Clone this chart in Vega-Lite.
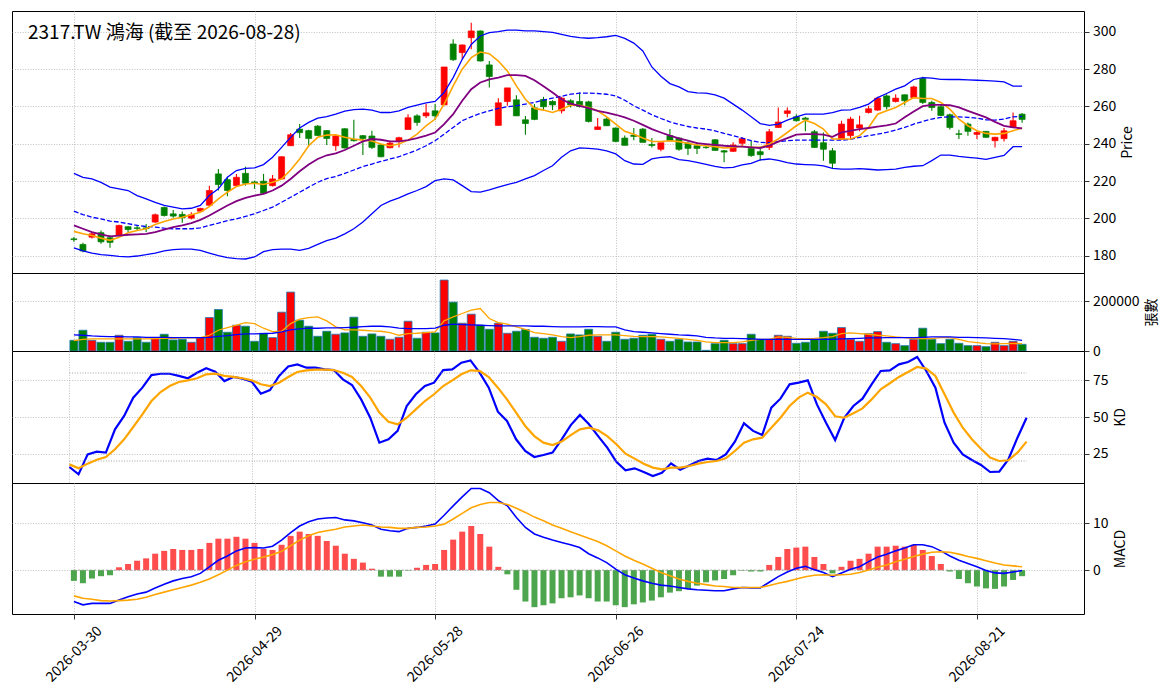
{
  "$schema": "https://vega.github.io/schema/vega-lite/v6.json",
  "padding": {"left": 11, "top": 10, "right": 4, "bottom": 4},
  "title": {
    "text": "2317.TW 鴻海 (截至 2026-08-28)",
    "anchor": "start",
    "frame": "group",
    "offset": -29,
    "dx": 16,
    "dy": 18,
    "baseline": "alphabetic",
    "fontSize": 19,
    "fontWeight": "normal",
    "color": "#000000"
  },
  "config": {
    "font": "Noto Sans CJK TC",
    "view": {"stroke": "#000000", "strokeWidth": 1},
    "axis": {
      "labelFontSize": 14,
      "labelColor": "#000000",
      "titleFontSize": 14,
      "titleFontWeight": "normal",
      "titleColor": "#000000",
      "tickColor": "#000000",
      "tickSize": 5,
      "tickWidth": 0.8,
      "domain": false,
      "gridColor": "#b0b0b0",
      "gridDash": [1, 1.6],
      "gridWidth": 0.8,
      "labelPadding": 3.5
    },
    "axisRight": {"titleAngle": 270, "titleBaseline": "top", "titlePadding": 5}
  },
  "datasets": {
    "stock": [
      {"d":"2026-03-30","i":0,"o":189.0,"h":190.0,"l":187.5,"c":188.6,"m5":193.0,"m10":196.2,"bu":224.1,"bm":203.8,"bl":184.2,"v":42900,"v5":41600,"v20":64400,"k":15.9,"dd":17.7,"dif":-6.7,"dea":-5.5,"osc":-2.3},
      {"d":"2026-03-31","i":1,"o":186.0,"h":186.9,"l":181.8,"c":182.5,"m5":191.7,"m10":194.4,"bu":222.0,"bm":202.0,"bl":182.5,"v":83200,"v5":47000,"v20":63100,"k":10.9,"dd":15.0,"dif":-7.4,"dea":-6.0,"osc":-2.8},
      {"d":"2026-04-01","i":2,"o":189.9,"h":192.6,"l":189.2,"c":191.7,"m5":190.8,"m10":192.6,"bu":221.1,"bm":200.6,"bl":181.4,"v":42900,"v5":48300,"v20":60400,"k":24.5,"dd":18.2,"dif":-7.1,"dea":-6.2,"osc":-1.8},
      {"d":"2026-04-02","i":3,"o":192.3,"h":193.5,"l":186.4,"c":187.4,"m5":189.4,"m10":191.4,"bu":219.3,"bm":199.7,"bl":180.5,"v":34900,"v5":48300,"v20":59000,"k":26.4,"dd":20.9,"dif":-7.1,"dea":-6.5,"osc":-1.3},
      {"d":"2026-04-07","i":4,"o":189.6,"h":190.9,"l":184.2,"c":187.1,"m5":188.2,"m10":190.3,"bu":216.7,"bm":198.5,"bl":180.1,"v":34900,"v5":48300,"v20":57700,"k":25.7,"dd":22.7,"dif":-7.1,"dea":-6.6,"osc":-1.1},
      {"d":"2026-04-08","i":5,"o":190.8,"h":196.5,"l":190.5,"c":196.2,"m5":189.9,"m10":190.7,"bu":215.8,"bm":198.0,"bl":179.6,"v":63100,"v5":48300,"v20":57700,"k":41.6,"dd":28.0,"dif":-6.4,"dea":-6.5,"osc":0.6},
      {"d":"2026-04-09","i":6,"o":195.5,"h":195.8,"l":192.5,"c":194.0,"m5":192.3,"m10":191.2,"bu":214.9,"bm":197.1,"bl":179.3,"v":38900,"v5":48300,"v20":56400,"k":50.7,"dd":34.8,"dif":-5.7,"dea":-6.4,"osc":1.3},
      {"d":"2026-04-10","i":7,"o":194.9,"h":196.5,"l":193.5,"c":194.6,"m5":193.5,"m10":191.4,"bu":212.2,"bm":196.2,"bl":179.8,"v":53700,"v5":48300,"v20":56400,"k":63.2,"dd":43.2,"dif":-5.1,"dea":-6.2,"osc":2.0},
      {"d":"2026-04-13","i":8,"o":194.9,"h":197.0,"l":192.7,"c":194.5,"m5":194.4,"m10":191.7,"bu":210.4,"bm":195.6,"bl":180.5,"v":34900,"v5":48300,"v20":55000,"k":70.0,"dd":51.8,"dif":-4.7,"dea":-5.8,"osc":2.5},
      {"d":"2026-04-14","i":9,"o":198.0,"h":202.6,"l":197.6,"c":201.9,"m5":196.7,"m10":192.6,"bu":208.6,"bm":195.3,"bl":181.4,"v":49700,"v5":49700,"v20":55000,"k":78.6,"dd":60.9,"dif":-3.8,"dea":-5.2,"osc":3.5},
      {"d":"2026-04-15","i":10,"o":205.8,"h":206.3,"l":201.0,"c":201.5,"m5":198.3,"m10":193.9,"bu":206.9,"bm":194.7,"bl":182.5,"v":67100,"v5":51000,"v20":55000,"k":79.5,"dd":67.0,"dif":-3.0,"dea":-4.7,"osc":4.1},
      {"d":"2026-04-16","i":11,"o":202.4,"h":204.5,"l":200.3,"c":201.2,"m5":199.6,"m10":195.3,"bu":206.0,"bm":194.4,"bl":183.2,"v":44300,"v5":51000,"v20":53700,"k":79.5,"dd":71.1,"dif":-2.3,"dea":-4.2,"osc":4.5},
      {"d":"2026-04-17","i":12,"o":202.1,"h":203.6,"l":197.6,"c":200.3,"m5":200.6,"m10":196.2,"bu":205.1,"bm":194.4,"bl":183.5,"v":47000,"v5":52300,"v20":53700,"k":78.0,"dd":73.9,"dif":-1.8,"dea":-3.7,"osc":4.3},
      {"d":"2026-04-20","i":13,"o":200.1,"h":203.3,"l":199.4,"c":201.9,"m5":201.9,"m10":197.4,"bu":205.4,"bm":194.4,"bl":183.5,"v":34900,"v5":52300,"v20":53700,"k":76.4,"dd":75.0,"dif":-1.4,"dea":-3.2,"osc":4.3},
      {"d":"2026-04-21","i":14,"o":203.8,"h":205.6,"l":203.5,"c":205.3,"m5":203.3,"m10":199.2,"bu":206.9,"bm":194.9,"bl":182.8,"v":53700,"v5":53700,"v20":53700,"k":80.2,"dd":76.4,"dif":-0.7,"dea":-2.6,"osc":4.5},
      {"d":"2026-04-22","i":15,"o":207.0,"h":217.5,"l":206.5,"c":214.9,"m5":206.3,"m10":201.5,"bu":212.2,"bm":196.2,"bl":181.4,"v":134200,"v5":63100,"v20":55000,"k":83.2,"dd":79.1,"dif":0.7,"dea":-1.9,"osc":5.8},
      {"d":"2026-04-23","i":16,"o":223.8,"h":226.4,"l":214.9,"c":218.1,"m5":210.4,"m10":204.2,"bu":215.8,"bm":197.4,"bl":180.0,"v":166400,"v5":83200,"v20":59000,"k":80.9,"dd":79.5,"dif":2.1,"dea":-1.0,"osc":6.7},
      {"d":"2026-04-24","i":17,"o":220.7,"h":222.3,"l":211.8,"c":214.9,"m5":214.0,"m10":206.9,"bu":222.0,"bm":198.8,"bl":178.9,"v":75200,"v5":93900,"v20":61700,"k":74.5,"dd":78.0,"dif":3.0,"dea":0.0,"osc":6.7},
      {"d":"2026-04-27","i":18,"o":217.5,"h":223.8,"l":217.0,"c":222.0,"m5":217.0,"m10":209.2,"bu":225.6,"bm":199.7,"bl":178.4,"v":103300,"v5":103300,"v20":65800,"k":77.3,"dd":77.3,"dif":4.1,"dea":1.0,"osc":7.1},
      {"d":"2026-04-28","i":19,"o":224.1,"h":227.7,"l":217.5,"c":218.8,"m5":218.4,"m10":211.0,"bu":226.8,"bm":201.0,"bl":178.2,"v":99300,"v5":114100,"v20":68400,"k":76.1,"dd":76.4,"dif":4.7,"dea":1.8,"osc":6.7},
      {"d":"2026-04-29","i":20,"o":219.5,"h":220.2,"l":215.8,"c":219.0,"m5":218.8,"m10":212.2,"bu":227.0,"bm":202.4,"bl":179.3,"v":38900,"v5":110000,"v20":68400,"k":74.1,"dd":75.0,"dif":4.8,"dea":2.3,"osc":5.8},
      {"d":"2026-04-30","i":21,"o":219.9,"h":223.8,"l":213.1,"c":213.4,"m5":218.1,"m10":213.1,"bu":228.8,"bm":204.2,"bl":182.1,"v":71100,"v5":91300,"v20":69800,"k":65.9,"dd":72.3,"dif":4.7,"dea":2.8,"osc":4.5},
      {"d":"2026-05-04","i":22,"o":217.5,"h":223.2,"l":217.0,"c":221.1,"m5":219.3,"m10":214.9,"bu":232.7,"bm":206.0,"bl":183.2,"v":53700,"v5":77800,"v20":71100,"k":68.4,"dd":71.1,"dif":5.1,"dea":3.3,"osc":4.3},
      {"d":"2026-05-05","i":23,"o":221.1,"h":233.2,"l":220.8,"c":233.0,"m5":221.1,"m10":217.5,"bu":238.0,"bm":208.6,"bl":183.5,"v":155700,"v5":79200,"v20":76500,"k":78.0,"dd":73.4,"dif":6.4,"dea":4.0,"osc":5.4},
      {"d":"2026-05-06","i":24,"o":238.9,"h":245.7,"l":238.9,"c":244.8,"m5":225.9,"m10":221.1,"bu":243.4,"bm":211.3,"bl":183.5,"v":236200,"v5":110000,"v20":84500,"k":84.5,"dd":77.3,"dif":8.0,"dea":5.2,"osc":7.3},
      {"d":"2026-05-07","i":25,"o":247.8,"h":250.5,"l":243.0,"c":245.9,"m5":231.8,"m10":225.2,"bu":248.4,"bm":214.0,"bl":182.8,"v":123500,"v5":127500,"v20":88600,"k":85.9,"dd":80.7,"dif":9.4,"dea":6.4,"osc":8.2},
      {"d":"2026-05-08","i":26,"o":247.0,"h":247.5,"l":238.9,"c":242.8,"m5":238.9,"m10":228.8,"bu":251.4,"bm":216.7,"bl":183.9,"v":99300,"v5":134200,"v20":91300,"k":83.6,"dd":81.8,"dif":10.3,"dea":7.3,"osc":7.7},
      {"d":"2026-05-11","i":27,"o":249.4,"h":250.0,"l":244.1,"c":244.4,"m5":243.4,"m10":231.8,"bu":253.7,"bm":219.3,"bl":186.0,"v":59000,"v5":136900,"v20":91300,"k":83.6,"dd":82.3,"dif":10.9,"dea":8.0,"osc":7.3},
      {"d":"2026-05-12","i":28,"o":247.0,"h":247.3,"l":239.3,"c":242.8,"m5":244.6,"m10":233.8,"bu":254.5,"bm":221.3,"bl":188.0,"v":79200,"v5":120800,"v20":92600,"k":82.5,"dd":82.3,"dif":11.1,"dea":8.4,"osc":6.2},
      {"d":"2026-05-13","i":29,"o":238.9,"h":244.6,"l":236.2,"c":244.1,"m5":244.8,"m10":234.8,"bu":255.8,"bm":222.4,"bl":189.4,"v":67100,"v5":96600,"v20":92600,"k":82.0,"dd":82.0,"dif":11.2,"dea":8.7,"osc":5.2},
      {"d":"2026-05-14","i":30,"o":248.0,"h":248.3,"l":237.4,"c":237.7,"m5":243.4,"m10":236.6,"bu":257.4,"bm":224.1,"bl":191.7,"v":72500,"v5":84500,"v20":93900,"k":75.7,"dd":80.2,"dif":10.7,"dea":9.2,"osc":3.5},
      {"d":"2026-05-15","i":31,"o":242.3,"h":252.8,"l":241.2,"c":241.6,"m5":242.5,"m10":238.9,"bu":258.3,"bm":225.9,"bl":194.4,"v":135500,"v5":84500,"v20":95300,"k":71.8,"dd":77.3,"dif":10.5,"dea":9.4,"osc":2.4},
      {"d":"2026-05-18","i":32,"o":244.3,"h":244.6,"l":233.9,"c":242.8,"m5":241.9,"m10":241.2,"bu":258.5,"bm":227.7,"bl":198.0,"v":59000,"v5":83200,"v20":98000,"k":62.0,"dd":71.1,"dif":10.1,"dea":9.6,"osc":1.6},
      {"d":"2026-05-19","i":33,"o":244.1,"h":246.9,"l":237.1,"c":238.0,"m5":241.4,"m10":242.5,"bu":258.0,"bm":229.1,"bl":202.4,"v":68400,"v5":80500,"v20":99300,"k":49.5,"dd":63.2,"dif":9.6,"dea":9.4,"osc":0.3},
      {"d":"2026-05-20","i":34,"o":239.3,"h":239.8,"l":232.7,"c":233.0,"m5":239.8,"m10":242.1,"bu":256.7,"bm":230.5,"bl":206.9,"v":59000,"v5":79200,"v20":99300,"k":32.5,"dd":53.0,"dif":8.7,"dea":9.2,"osc":-1.4},
      {"d":"2026-05-21","i":35,"o":237.8,"h":241.6,"l":237.5,"c":240.3,"m5":238.9,"m10":241.2,"bu":256.7,"bm":231.8,"bl":209.2,"v":47000,"v5":73800,"v20":96600,"k":34.8,"dd":46.8,"dif":8.4,"dea":9.1,"osc":-1.4},
      {"d":"2026-05-22","i":36,"o":241.2,"h":243.7,"l":238.0,"c":243.2,"m5":239.8,"m10":241.2,"bu":257.6,"bm":233.0,"bl":211.0,"v":55000,"v5":63100,"v20":91300,"k":40.5,"dd":45.0,"dif":8.2,"dea":8.9,"osc":-1.4},
      {"d":"2026-05-25","i":37,"o":247.6,"h":255.8,"l":247.6,"c":253.9,"m5":241.9,"m10":241.9,"bu":259.4,"bm":234.8,"bl":213.1,"v":119400,"v5":69800,"v20":89900,"k":57.5,"dd":49.5,"dif":8.9,"dea":8.9,"osc":-0.1},
      {"d":"2026-05-26","i":38,"o":254.9,"h":255.8,"l":249.6,"c":251.4,"m5":245.1,"m10":243.0,"bu":260.6,"bm":236.6,"bl":214.9,"v":51000,"v5":71100,"v20":89900,"k":65.5,"dd":55.2,"dif":9.1,"dea":9.1,"osc":0.5},
      {"d":"2026-05-27","i":39,"o":254.9,"h":261.2,"l":253.7,"c":256.5,"m5":249.6,"m10":244.3,"bu":261.9,"bm":238.9,"bl":217.0,"v":75200,"v5":73800,"v20":89900,"k":71.1,"dd":60.9,"dif":9.4,"dea":9.2,"osc":1.1},
      {"d":"2026-05-28","i":40,"o":257.6,"h":261.2,"l":252.8,"c":254.9,"m5":253.2,"m10":246.0,"bu":262.6,"bm":241.6,"bl":220.2,"v":72500,"v5":76500,"v20":91300,"k":73.4,"dd":65.5,"dif":9.8,"dea":9.4,"osc":1.3},
      {"d":"2026-05-29","i":41,"o":260.8,"h":281.1,"l":260.8,"c":281.1,"m5":261.2,"m10":250.5,"bu":267.4,"bm":245.1,"bl":221.1,"v":284500,"v5":120800,"v20":103300,"k":82.0,"dd":71.1,"dif":11.7,"dea":9.8,"osc":4.3},
      {"d":"2026-06-01","i":42,"o":293.4,"h":295.9,"l":284.3,"c":285.0,"m5":271.0,"m10":255.8,"bu":275.4,"bm":248.7,"bl":220.6,"v":195900,"v5":136900,"v20":107400,"k":82.5,"dd":75.0,"dif":13.7,"dea":10.9,"osc":6.5},
      {"d":"2026-06-02","i":43,"o":288.8,"h":293.2,"l":285.2,"c":292.9,"m5":279.9,"m10":263.0,"bu":285.2,"bm":252.3,"bl":217.5,"v":111400,"v5":150300,"v20":106000,"k":87.0,"dd":79.1,"dif":15.6,"dea":12.1,"osc":8.2},
      {"d":"2026-06-03","i":44,"o":296.8,"h":304.8,"l":290.6,"c":300.4,"m5":286.1,"m10":269.2,"bu":293.2,"bm":254.4,"bl":214.3,"v":147600,"v5":163700,"v20":104700,"k":88.6,"dd":81.8,"dif":17.4,"dea":13.3,"osc":9.4},
      {"d":"2026-06-04","i":45,"o":300.4,"h":300.6,"l":284.0,"c":284.3,"m5":289.1,"m10":272.8,"bu":297.7,"bm":256.2,"bl":214.0,"v":103300,"v5":170400,"v20":103300,"k":80.2,"dd":81.4,"dif":17.4,"dea":14.0,"osc":7.7},
      {"d":"2026-06-05","i":46,"o":282.2,"h":284.3,"l":270.1,"c":276.0,"m5":288.2,"m10":274.5,"bu":299.5,"bm":257.6,"bl":215.2,"v":87200,"v5":130200,"v20":102000,"k":70.0,"dd":77.3,"dif":16.5,"dea":14.4,"osc":5.0},
      {"d":"2026-06-08","i":47,"o":249.8,"h":264.4,"l":249.8,"c":261.9,"m5":284.3,"m10":275.4,"bu":300.0,"bm":258.9,"bl":216.7,"v":111400,"v5":114100,"v20":100700,"k":53.6,"dd":70.0,"dif":14.8,"dea":14.4,"osc":0.7},
      {"d":"2026-06-09","i":48,"o":262.6,"h":269.9,"l":260.3,"c":269.9,"m5":279.0,"m10":276.7,"bu":300.9,"bm":259.8,"bl":218.1,"v":71100,"v5":107400,"v20":100700,"k":47.3,"dd":62.0,"dif":13.7,"dea":14.0,"osc":-0.9},
      {"d":"2026-06-10","i":49,"o":263.5,"h":266.0,"l":254.9,"c":254.9,"m5":271.0,"m10":276.7,"bu":300.9,"bm":260.3,"bl":219.3,"v":79200,"v5":96600,"v20":100700,"k":34.8,"dd":53.0,"dif":11.2,"dea":13.2,"osc":-4.2},
      {"d":"2026-06-11","i":50,"o":252.8,"h":254.8,"l":244.8,"c":250.8,"m5":263.8,"m10":276.3,"bu":300.5,"bm":261.2,"bl":221.1,"v":85900,"v5":87200,"v20":100700,"k":26.8,"dd":43.9,"dif":9.1,"dea":12.3,"osc":-6.7},
      {"d":"2026-06-12","i":51,"o":259.2,"h":261.2,"l":252.6,"c":253.0,"m5":258.9,"m10":274.0,"bu":300.4,"bm":262.1,"bl":222.9,"v":55000,"v5":73800,"v20":99300,"k":22.7,"dd":37.0,"dif":7.7,"dea":11.3,"osc":-7.9},
      {"d":"2026-06-15","i":52,"o":263.7,"h":265.1,"l":257.6,"c":259.8,"m5":258.0,"m10":270.8,"bu":300.0,"bm":263.3,"bl":225.6,"v":51000,"v5":69800,"v20":99300,"k":24.1,"dd":32.5,"dif":7.0,"dea":10.5,"osc":-7.5},
      {"d":"2026-06-16","i":53,"o":262.6,"h":263.3,"l":258.0,"c":260.8,"m5":256.7,"m10":267.4,"bu":299.6,"bm":264.4,"bl":228.2,"v":55000,"v5":64400,"v20":98000,"k":25.7,"dd":30.9,"dif":6.4,"dea":9.6,"osc":-7.1},
      {"d":"2026-06-17","i":54,"o":257.6,"h":265.1,"l":256.2,"c":264.4,"m5":258.5,"m10":263.8,"bu":298.6,"bm":265.4,"bl":232.7,"v":38900,"v5":57700,"v20":96600,"k":34.8,"dd":33.2,"dif":5.9,"dea":8.9,"osc":-6.0},
      {"d":"2026-06-18","i":55,"o":263.0,"h":263.8,"l":259.4,"c":260.8,"m5":260.6,"m10":261.5,"bu":297.5,"bm":266.5,"bl":236.2,"v":68400,"v5":53700,"v20":96600,"k":44.5,"dd":37.7,"dif":5.4,"dea":8.2,"osc":-5.8},
      {"d":"2026-06-22","i":56,"o":262.6,"h":267.4,"l":259.4,"c":259.9,"m5":260.6,"m10":260.3,"bu":296.8,"bm":267.1,"bl":237.7,"v":64400,"v5":57700,"v20":96600,"k":51.4,"dd":41.6,"dif":4.8,"dea":7.5,"osc":-5.4},
      {"d":"2026-06-23","i":57,"o":262.4,"h":263.0,"l":251.4,"c":251.9,"m5":259.4,"m10":259.0,"bu":296.5,"bm":267.1,"bl":237.5,"v":87200,"v5":63100,"v20":98000,"k":45.0,"dd":42.7,"dif":3.5,"dea":6.8,"osc":-6.0},
      {"d":"2026-06-24","i":58,"o":247.6,"h":253.7,"l":247.6,"c":249.0,"m5":257.6,"m10":257.6,"bu":296.8,"bm":266.9,"bl":237.1,"v":59000,"v5":64400,"v20":98000,"k":37.0,"dd":40.9,"dif":2.6,"dea":6.1,"osc":-6.7},
      {"d":"2026-06-25","i":59,"o":253.2,"h":254.1,"l":249.6,"c":249.6,"m5":254.4,"m10":256.7,"bu":297.3,"bm":266.5,"bl":236.2,"v":38900,"v5":64400,"v20":96600,"k":29.1,"dd":37.0,"dif":1.6,"dea":5.2,"osc":-6.7},
      {"d":"2026-06-26","i":60,"o":248.4,"h":248.7,"l":240.7,"c":241.2,"m5":250.5,"m10":255.5,"bu":298.0,"bm":265.6,"bl":234.5,"v":75200,"v5":64400,"v20":96600,"k":19.5,"dd":31.4,"dif":0.2,"dea":4.1,"osc":-7.5},
      {"d":"2026-06-29","i":61,"o":243.0,"h":244.4,"l":239.1,"c":239.1,"m5":246.6,"m10":254.1,"bu":296.4,"bm":263.3,"bl":230.9,"v":47000,"v5":61700,"v20":84500,"k":13.6,"dd":25.0,"dif":-1.0,"dea":3.0,"osc":-7.9},
      {"d":"2026-06-30","i":62,"o":244.6,"h":248.4,"l":241.9,"c":243.9,"m5":245.1,"m10":252.3,"bu":293.9,"bm":260.3,"bl":229.1,"v":51000,"v5":59000,"v20":77800,"k":15.0,"dd":21.6,"dif":-1.7,"dea":2.1,"osc":-7.3},
      {"d":"2026-07-01","i":63,"o":247.8,"h":248.4,"l":240.7,"c":240.7,"m5":243.0,"m10":250.1,"bu":289.7,"bm":258.0,"bl":228.9,"v":63100,"v5":57700,"v20":75200,"k":12.5,"dd":18.2,"dif":-2.3,"dea":1.3,"osc":-6.9},
      {"d":"2026-07-02","i":64,"o":239.6,"h":243.0,"l":238.0,"c":239.0,"m5":241.2,"m10":247.8,"bu":281.1,"bm":255.5,"bl":231.8,"v":67100,"v5":57700,"v20":72500,"k":9.8,"dd":15.5,"dif":-2.8,"dea":0.4,"osc":-6.5},
      {"d":"2026-07-03","i":65,"o":237.0,"h":240.5,"l":235.9,"c":240.5,"m5":241.2,"m10":246.0,"bu":276.1,"bm":253.5,"bl":232.7,"v":47000,"v5":56400,"v20":69800,"k":12.0,"dd":14.3,"dif":-3.2,"dea":-0.5,"osc":-5.8},
      {"d":"2026-07-06","i":66,"o":244.3,"h":247.8,"l":241.2,"c":241.6,"m5":241.6,"m10":244.3,"bu":272.2,"bm":251.7,"bl":233.0,"v":38900,"v5":53700,"v20":67100,"k":18.4,"dd":15.5,"dif":-3.4,"dea":-1.2,"osc":-4.8},
      {"d":"2026-07-07","i":67,"o":243.0,"h":243.4,"l":236.2,"c":237.0,"m5":241.1,"m10":242.8,"bu":270.4,"bm":250.3,"bl":231.4,"v":47000,"v5":51000,"v20":64400,"k":14.1,"dd":15.5,"dif":-3.7,"dea":-1.9,"osc":-4.5},
      {"d":"2026-07-08","i":68,"o":240.3,"h":241.2,"l":233.9,"c":237.5,"m5":240.2,"m10":241.6,"bu":267.9,"bm":249.2,"bl":230.9,"v":36200,"v5":47000,"v20":63100,"k":17.0,"dd":16.6,"dif":-4.0,"dea":-2.4,"osc":-4.0},
      {"d":"2026-07-09","i":69,"o":238.9,"h":240.7,"l":234.5,"c":237.5,"m5":239.3,"m10":240.3,"bu":267.2,"bm":248.4,"bl":230.0,"v":36200,"v5":42900,"v20":60400,"k":20.0,"dd":18.2,"dif":-4.2,"dea":-2.8,"osc":-3.3},
      {"d":"2026-07-10","i":70,"o":238.1,"h":238.9,"l":237.3,"c":237.9,"m5":238.9,"m10":239.8,"bu":267.1,"bm":247.8,"bl":228.9,"v":2700,"v5":36200,"v20":55000,"k":21.6,"dd":19.3,"dif":-4.3,"dea":-3.1,"osc":-2.6},
      {"d":"2026-07-13","i":71,"o":242.1,"h":242.5,"l":236.2,"c":236.4,"m5":238.4,"m10":239.4,"bu":266.2,"bm":246.9,"bl":227.8,"v":29500,"v5":33500,"v20":52300,"k":20.7,"dd":20.0,"dif":-4.4,"dea":-3.4,"osc":-2.2},
      {"d":"2026-07-14","i":72,"o":236.2,"h":236.6,"l":230.0,"c":235.5,"m5":237.7,"m10":238.9,"bu":264.4,"bm":245.5,"bl":227.0,"v":42900,"v5":33500,"v20":51000,"k":24.5,"dd":21.8,"dif":-4.4,"dea":-3.5,"osc":-1.9},
      {"d":"2026-07-15","i":73,"o":235.9,"h":240.7,"l":235.5,"c":239.3,"m5":238.0,"m10":238.6,"bu":261.2,"bm":244.3,"bl":227.3,"v":29500,"v5":33500,"v20":51000,"k":33.2,"dd":26.8,"dif":-4.0,"dea":-3.7,"osc":-1.1},
      {"d":"2026-07-16","i":74,"o":240.2,"h":243.4,"l":238.9,"c":242.7,"m5":238.6,"m10":238.4,"bu":258.0,"bm":243.0,"bl":228.6,"v":29500,"v5":36200,"v20":49700,"k":45.7,"dd":32.5,"dif":-3.7,"dea":-3.7,"osc":-0.1},
      {"d":"2026-07-17","i":75,"o":237.5,"h":241.6,"l":233.0,"c":233.6,"m5":238.0,"m10":238.0,"bu":254.4,"bm":241.6,"bl":229.5,"v":67100,"v5":42900,"v20":48300,"k":40.5,"dd":34.8,"dif":-3.8,"dea":-3.7,"osc":-0.3},
      {"d":"2026-07-20","i":76,"o":235.7,"h":238.4,"l":230.9,"c":234.1,"m5":238.0,"m10":237.7,"bu":250.8,"bm":240.7,"bl":231.3,"v":47000,"v5":47000,"v20":47000,"k":37.7,"dd":35.9,"dif":-3.8,"dea":-3.7,"osc":-0.3},
      {"d":"2026-07-21","i":77,"o":238.0,"h":247.8,"l":236.6,"c":246.4,"m5":239.8,"m10":238.9,"bu":249.8,"bm":240.5,"bl":231.8,"v":47000,"v5":47000,"v20":47000,"k":56.4,"dd":42.7,"dif":-2.6,"dea":-3.3,"osc":1.1},
      {"d":"2026-07-22","i":78,"o":248.7,"h":259.4,"l":248.4,"c":251.6,"m5":242.5,"m10":241.1,"bu":250.5,"bm":241.1,"bl":231.1,"v":63100,"v5":56400,"v20":47000,"k":62.5,"dd":49.5,"dif":-1.4,"dea":-2.8,"osc":2.8},
      {"d":"2026-07-23","i":79,"o":256.2,"h":259.4,"l":254.1,"c":257.6,"m5":246.0,"m10":243.0,"bu":252.6,"bm":241.6,"bl":229.8,"v":59000,"v5":55000,"v20":47000,"k":72.3,"dd":57.5,"dif":-0.4,"dea":-2.4,"osc":4.5},
      {"d":"2026-07-24","i":80,"o":254.4,"h":255.8,"l":251.9,"c":252.3,"m5":249.6,"m10":244.8,"bu":254.4,"bm":241.9,"bl":229.1,"v":30900,"v5":51000,"v20":47000,"k":73.4,"dd":63.2,"dif":0.4,"dea":-1.9,"osc":4.8},
      {"d":"2026-07-27","i":81,"o":253.7,"h":254.4,"l":246.6,"c":253.0,"m5":252.6,"m10":245.1,"bu":255.8,"bm":241.9,"bl":228.8,"v":34900,"v5":49700,"v20":47000,"k":75.0,"dd":66.6,"dif":0.8,"dea":-1.4,"osc":5.0},
      {"d":"2026-07-28","i":82,"o":246.4,"h":247.3,"l":237.7,"c":238.0,"m5":250.8,"m10":245.1,"bu":255.8,"bm":241.9,"bl":228.6,"v":47000,"v5":51000,"v20":47000,"k":58.6,"dd":63.6,"dif":0.1,"dea":-1.1,"osc":2.8},
      {"d":"2026-07-29","i":83,"o":240.5,"h":246.0,"l":230.9,"c":237.0,"m5":247.8,"m10":244.8,"bu":255.8,"bm":241.9,"bl":228.1,"v":79200,"v5":53700,"v20":47000,"k":46.1,"dd":58.6,"dif":-0.5,"dea":-1.0,"osc":1.3},
      {"d":"2026-07-30","i":84,"o":236.2,"h":237.7,"l":226.4,"c":229.5,"m5":242.5,"m10":243.7,"bu":256.7,"bm":241.9,"bl":226.8,"v":71100,"v5":57700,"v20":47000,"k":34.3,"dd":50.5,"dif":-1.4,"dea":-1.1,"osc":-0.7},
      {"d":"2026-07-31","i":85,"o":242.3,"h":252.3,"l":242.3,"c":250.5,"m5":242.5,"m10":246.0,"bu":258.0,"bm":241.9,"bl":226.4,"v":93900,"v5":69800,"v20":48300,"k":49.5,"dd":49.5,"dif":-0.6,"dea":-1.0,"osc":0.7},
      {"d":"2026-08-03","i":86,"o":244.3,"h":254.4,"l":242.5,"c":253.2,"m5":242.5,"m10":246.9,"bu":258.1,"bm":242.3,"bl":226.4,"v":47000,"v5":72500,"v20":49700,"k":57.5,"dd":52.5,"dif":0.2,"dea":-0.9,"osc":2.0},
      {"d":"2026-08-04","i":87,"o":248.4,"h":254.9,"l":246.6,"c":250.1,"m5":244.3,"m10":247.8,"bu":259.4,"bm":243.4,"bl":226.6,"v":38900,"v5":69800,"v20":51000,"k":62.5,"dd":55.9,"dif":0.7,"dea":-0.5,"osc":2.4},
      {"d":"2026-08-05","i":88,"o":256.7,"h":260.3,"l":256.2,"c":258.7,"m5":248.7,"m10":248.4,"bu":261.2,"bm":244.3,"bl":226.3,"v":69800,"v5":67100,"v20":52300,"k":72.3,"dd":62.0,"dif":1.8,"dea":0.0,"osc":3.5},
      {"d":"2026-08-06","i":89,"o":258.0,"h":265.1,"l":257.6,"c":264.4,"m5":255.8,"m10":249.1,"bu":264.7,"bm":245.1,"bl":225.9,"v":77800,"v5":63100,"v20":52300,"k":81.4,"dd":68.9,"dif":2.8,"dea":0.6,"osc":5.0},
      {"d":"2026-08-07","i":90,"o":265.6,"h":266.5,"l":258.3,"c":259.8,"m5":257.6,"m10":249.8,"bu":266.9,"bm":246.0,"bl":226.1,"v":34900,"v5":60400,"v20":53700,"k":81.8,"dd":73.0,"dif":3.4,"dea":1.1,"osc":5.0},
      {"d":"2026-08-10","i":91,"o":262.6,"h":266.5,"l":262.1,"c":264.4,"m5":259.4,"m10":250.8,"bu":269.2,"bm":247.3,"bl":226.4,"v":29500,"v5":56400,"v20":53700,"k":85.9,"dd":77.3,"dif":4.1,"dea":1.8,"osc":5.2},
      {"d":"2026-08-11","i":92,"o":266.2,"h":266.3,"l":260.6,"c":263.0,"m5":262.1,"m10":254.1,"bu":271.0,"bm":248.7,"bl":227.3,"v":21500,"v5":53700,"v20":53700,"k":87.5,"dd":80.7,"dif":4.7,"dea":2.3,"osc":5.0},
      {"d":"2026-08-12","i":93,"o":264.7,"h":271.0,"l":264.4,"c":270.4,"m5":264.7,"m10":257.3,"bu":274.4,"bm":250.5,"bl":227.9,"v":47000,"v5":49700,"v20":53700,"k":90.9,"dd":84.1,"dif":5.4,"dea":2.9,"osc":5.4},
      {"d":"2026-08-13","i":94,"o":274.9,"h":275.8,"l":261.2,"c":262.1,"m5":264.2,"m10":260.1,"bu":275.4,"bm":251.9,"bl":228.2,"v":91300,"v5":49700,"v20":55000,"k":81.4,"dd":83.0,"dif":5.4,"dea":3.4,"osc":4.3},
      {"d":"2026-08-14","i":95,"o":262.1,"h":263.0,"l":257.6,"c":259.4,"m5":264.2,"m10":260.8,"bu":275.1,"bm":253.2,"bl":230.9,"v":47000,"v5":49700,"v20":56400,"k":70.0,"dd":78.0,"dif":5.0,"dea":3.8,"osc":3.0},
      {"d":"2026-08-17","i":96,"o":259.8,"h":260.8,"l":254.8,"c":255.1,"m5":262.1,"m10":260.8,"bu":274.5,"bm":254.1,"bl":233.9,"v":29500,"v5":53700,"v20":56400,"k":46.1,"dd":65.5,"dif":4.1,"dea":3.9,"osc":1.3},
      {"d":"2026-08-18","i":97,"o":255.5,"h":256.2,"l":247.6,"c":248.7,"m5":258.5,"m10":260.6,"bu":274.4,"bm":254.4,"bl":233.9,"v":47000,"v5":53700,"v20":56400,"k":32.5,"dd":53.0,"dif":3.0,"dea":3.8,"osc":-0.3},
      {"d":"2026-08-19","i":98,"o":245.3,"h":247.5,"l":242.5,"c":245.0,"m5":253.2,"m10":259.4,"bu":274.4,"bm":254.4,"bl":233.2,"v":30900,"v5":47000,"v20":55000,"k":24.5,"dd":42.7,"dif":2.1,"dea":3.4,"osc":-1.9},
      {"d":"2026-08-20","i":99,"o":250.5,"h":251.4,"l":244.3,"c":246.6,"m5":249.6,"m10":257.6,"bu":274.2,"bm":254.1,"bl":232.7,"v":21500,"v5":37600,"v20":55000,"k":20.7,"dd":34.8,"dif":1.4,"dea":2.9,"osc":-2.8},
      {"d":"2026-08-21","i":100,"o":245.0,"h":246.9,"l":242.5,"c":246.0,"m5":246.9,"m10":255.8,"bu":274.0,"bm":253.7,"bl":232.3,"v":21500,"v5":33500,"v20":53700,"k":17.3,"dd":28.4,"dif":0.7,"dea":2.5,"osc":-3.5},
      {"d":"2026-08-24","i":101,"o":246.6,"h":246.8,"l":243.2,"c":243.4,"m5":245.5,"m10":254.1,"bu":273.8,"bm":252.8,"bl":231.6,"v":17400,"v5":29500,"v20":52300,"k":12.5,"dd":22.3,"dif":-0.1,"dea":2.0,"osc":-3.9},
      {"d":"2026-08-25","i":102,"o":241.6,"h":243.7,"l":238.0,"c":243.4,"m5":245.1,"m10":251.7,"bu":273.5,"bm":252.6,"bl":232.7,"v":34900,"v5":28200,"v20":51000,"k":12.7,"dd":20.0,"dif":-0.6,"dea":1.5,"osc":-4.0},
      {"d":"2026-08-26","i":103,"o":242.7,"h":248.4,"l":241.2,"c":246.9,"m5":245.5,"m10":249.6,"bu":273.1,"bm":253.2,"bl":233.7,"v":21500,"v5":29500,"v20":49700,"k":21.1,"dd":20.5,"dif":-0.7,"dea":1.1,"osc":-3.5},
      {"d":"2026-08-27","i":104,"o":248.7,"h":256.7,"l":248.4,"c":252.3,"m5":246.9,"m10":248.7,"bu":270.8,"bm":254.4,"bl":238.4,"v":38900,"v5":30900,"v20":47000,"k":35.9,"dd":25.7,"dif":-0.4,"dea":0.9,"osc":-2.1},
      {"d":"2026-08-28","i":105,"o":255.8,"h":256.5,"l":251.2,"c":253.0,"m5":248.4,"m10":248.2,"bu":270.8,"bm":254.6,"bl":238.4,"v":26800,"v5":29500,"v20":42900,"k":49.5,"dd":33.2,"dif":-0.1,"dea":0.7,"osc":-1.3}
    ]
  },
  "spacing": 0,
  "bounds": "flush",
  "vconcat": [
    {
      "width": 1072,
      "height": 262,
      "data": {"name": "stock"},
      "encoding": {
        "x": {"field": "i", "type": "quantitative", "scale": {"domain": [-6.3, 111.3], "nice": false, "zero": false},
              "axis": {"values": [0, 20, 40, 60, 80, 100], "labels": false, "ticks": false, "title": null, "grid": true}}
      },
      "layer": [
        {
          "mark": {"type": "rule", "strokeWidth": 1.1},
          "encoding": {
            "y": {"field": "l", "type": "quantitative", "scale": {"domain": [170.7, 311.1], "nice": false, "zero": false},
                  "axis": {"orient": "right", "values": [180, 200, 220, 240, 260, 280, 300], "title": "Price", "grid": true}},
            "y2": {"field": "h"},
            "color": {"condition": {"test": "datum.c >= datum.o", "value": "#ff0000"}, "value": "#008000"}
          }
        },
        {
          "mark": {"type": "bar", "size": 6, "strokeWidth": 0.7},
          "encoding": {
            "y": {"field": "o", "type": "quantitative"},
            "y2": {"field": "c"},
            "color": {"condition": {"test": "datum.c >= datum.o", "value": "#ff0000"}, "value": "#008000"},
            "stroke": {"condition": {"test": "datum.c >= datum.o", "value": "#ff0000"}, "value": "#008000"}
          }
        },
        {
          "mark": {"type": "line", "color": "#0000ff", "strokeWidth": 1.3},
          "encoding": {"y": {"field": "bu", "type": "quantitative"}}
        },
        {
          "mark": {"type": "line", "color": "#0000ff", "strokeWidth": 1.3},
          "encoding": {"y": {"field": "bl", "type": "quantitative"}}
        },
        {
          "mark": {"type": "line", "color": "#0000ff", "strokeWidth": 1.3, "strokeDash": [4.8, 2.1]},
          "encoding": {"y": {"field": "bm", "type": "quantitative"}}
        },
        {
          "mark": {"type": "line", "color": "#ffa500", "strokeWidth": 1.6},
          "encoding": {"y": {"field": "m5", "type": "quantitative"}}
        },
        {
          "mark": {"type": "line", "color": "#800080", "strokeWidth": 1.8},
          "encoding": {"y": {"field": "m10", "type": "quantitative"}}
        }
      ]
    },
    {
      "width": 1072,
      "height": 78,
      "data": {"name": "stock"},
      "encoding": {
        "x": {"field": "i", "type": "quantitative", "scale": {"domain": [-6.3, 111.3], "nice": false, "zero": false},
              "axis": {"values": [0, 20, 40, 60, 80, 100], "labels": false, "ticks": false, "title": null, "grid": true}}
      },
      "layer": [
        {
          "mark": {"type": "bar", "size": 8, "stroke": "#1f77b4", "strokeWidth": 0.8},
          "encoding": {
            "y": {"field": "v", "type": "quantitative", "scale": {"domain": [0, 312700], "nice": false},
                  "axis": {"orient": "right", "values": [0, 200000], "format": "d", "title": "張數", "grid": true}},
            "color": {"condition": {"test": "datum.c >= datum.o", "value": "#ff0000"}, "value": "#008000"}
          }
        },
        {
          "mark": {"type": "line", "color": "#ffa500", "strokeWidth": 1.3},
          "encoding": {"y": {"field": "v5", "type": "quantitative"}}
        },
        {
          "mark": {"type": "line", "color": "#0000ff", "strokeWidth": 1.3},
          "encoding": {"y": {"field": "v20", "type": "quantitative"}}
        }
      ]
    },
    {
      "width": 1072,
      "height": 132,
      "data": {"name": "stock"},
      "encoding": {
        "x": {"field": "i", "type": "quantitative", "scale": {"domain": [-6.3, 111.3], "nice": false, "zero": false},
              "axis": {"values": [0, 20, 40, 60, 80, 100], "labels": false, "ticks": false, "title": null, "grid": true}}
      },
      "layer": [
        {
          "mark": {"type": "line", "color": "#0000ff", "strokeWidth": 2.2},
          "encoding": {"y": {"field": "k", "type": "quantitative", "scale": {"domain": [5, 95], "nice": false, "zero": false},
                             "axis": {"orient": "right", "values": [25, 50, 75], "title": "KD", "grid": true}}}
        },
        {
          "mark": {"type": "line", "color": "#999999", "strokeWidth": 0.9, "strokeDash": [1, 1.6]},
          "encoding": {"y": {"datum": 20, "type": "quantitative"}}
        },
        {
          "mark": {"type": "line", "color": "#999999", "strokeWidth": 0.9, "strokeDash": [1, 1.6]},
          "encoding": {"y": {"datum": 80, "type": "quantitative"}}
        },
        {
          "mark": {"type": "line", "color": "#ffa500", "strokeWidth": 2.2},
          "encoding": {"y": {"field": "dd", "type": "quantitative"}}
        }
      ]
    },
    {
      "width": 1072,
      "height": 131,
      "data": {"name": "stock"},
      "encoding": {
        "x": {"field": "i", "type": "quantitative", "scale": {"domain": [-6.3, 111.3], "nice": false, "zero": false},
              "axis": {"values": [0, 20, 40, 60, 80, 100], "title": null, "grid": true, "ticks": true,
                       "labelExpr": "datum.value == 0 ? '2026-03-30' : datum.value == 20 ? '2026-04-29' : datum.value == 40 ? '2026-05-28' : datum.value == 60 ? '2026-06-26' : datum.value == 80 ? '2026-07-24' : '2026-08-21'",
                       "labelAngle": -45, "labelAlign": "center", "labelBaseline": "middle", "labelPadding": 35,
                       "labelFlush": false, "labelOverlap": false}}
      },
      "layer": [
        {
          "mark": {"type": "bar", "size": 6},
          "encoding": {
            "y": {"field": "osc", "type": "quantitative", "scale": {"domain": [-9.36, 18.57], "nice": false, "zero": false},
                  "axis": {"orient": "right", "values": [0, 10], "title": "MACD", "grid": true}},
            "color": {"condition": {"test": "datum.osc >= 0", "value": "#ff4d4d"}, "value": "#4da64d"}
          }
        },
        {
          "mark": {"type": "line", "color": "#999999", "strokeWidth": 0.9, "strokeDash": [2, 2]},
          "encoding": {"y": {"datum": 0, "type": "quantitative"}}
        },
        {
          "mark": {"type": "line", "color": "#0000ff", "strokeWidth": 1.6},
          "encoding": {"y": {"field": "dif", "type": "quantitative"}}
        },
        {
          "mark": {"type": "line", "color": "#ffa500", "strokeWidth": 1.6},
          "encoding": {"y": {"field": "dea", "type": "quantitative"}}
        }
      ]
    }
  ]
}
